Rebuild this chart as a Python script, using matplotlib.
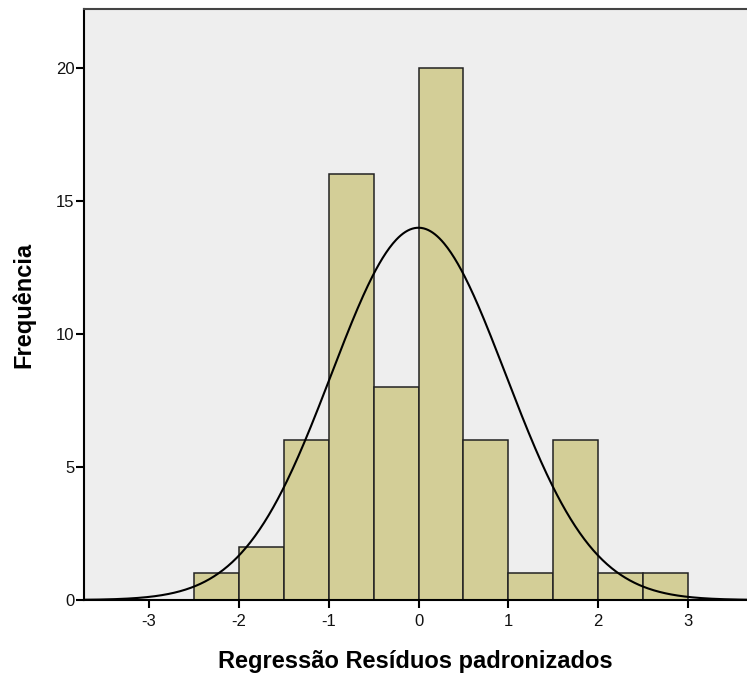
import numpy as np
import matplotlib
matplotlib.use("Agg")
import matplotlib.pyplot as plt

plt.rcParams['font.family'] = ['Liberation Sans', 'DejaVu Sans']

bin_edges = [-2.5, -2.0, -1.5, -1.0, -0.5, 0.0, 0.5, 1.0, 1.5, 2.0, 2.5, 3.0]
counts = [1, 2, 6, 16, 8, 20, 6, 1, 6, 1, 1]
mean = 0.0
std = 0.97
n_total = sum(counts)

xticks = [-3, -2, -1, 0, 1, 2, 3]
yticks = [0, 5, 10, 15, 20]

fig = plt.figure(figsize=(7.47, 6.75), dpi=100)
ax = fig.add_axes([84/747, 1 - 600/675, 1 - 84/747, (600 - 9)/675])
ax.set_facecolor('#EEEEEE')

edges = np.array(bin_edges)
widths = np.diff(edges)
ax.bar(edges[:-1], counts, width=widths, align='edge', color='#D3CE97',
       edgecolor='#222222', linewidth=1.1, zorder=2)

xs = np.linspace(-3.8, 3.8, 600)
bw = widths[0]
ys = n_total * bw / (std * np.sqrt(2 * np.pi)) * np.exp(-0.5 * ((xs - mean) / std) ** 2)
ax.plot(xs, ys, color='black', linewidth=1.5, zorder=3)

ax.set_xlim(-3.725, 3.658)
ax.set_ylim(0, 22.2)
ax.set_xticks(xticks)
ax.set_xticklabels([str(t) for t in xticks])
ax.set_yticks(yticks)
ax.set_yticklabels([str(t) for t in yticks])

ax.tick_params(axis='both', direction='out', length=6, width=1.5, labelsize=12,
               colors='black', labelcolor='#111111')
ax.tick_params(axis='x', pad=4)
ax.tick_params(axis='y', pad=1)

for s in ['left', 'bottom']:
    ax.spines[s].set_linewidth(1.5)
    ax.spines[s].set_color('black')
ax.spines['top'].set_linewidth(1.5)
ax.spines['top'].set_color('#444444')
ax.spines['right'].set_visible(False)

ax.set_xlabel('Regressão Resíduos padronizados', fontsize=17, fontweight='bold', labelpad=15)
ax.set_ylabel('Frequência', fontsize=17, fontweight='bold')
ax.yaxis.set_label_coords(-0.074, 0.5)

fig.savefig('out.png', dpi=100)
